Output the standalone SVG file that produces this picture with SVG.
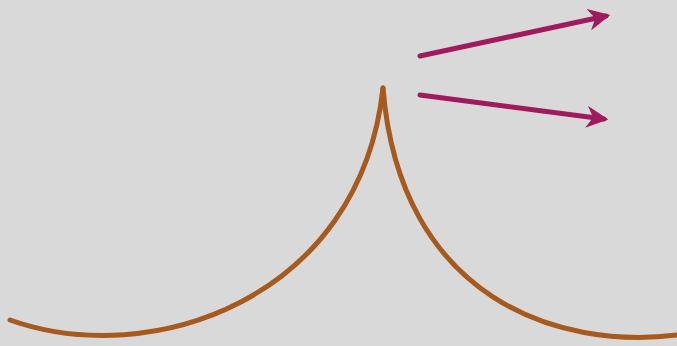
<svg xmlns="http://www.w3.org/2000/svg" width="677" height="346" viewBox="0 0 677 346">
<defs>
<style>
.curve{fill:none;stroke:#A65A1E;stroke-width:5;stroke-linecap:round}
.arrow{fill:none;stroke:#A01A5E;stroke-width:5;stroke-linecap:round}
</style>
<marker id="ah" viewBox="0 0 10 10" refX="8" refY="5" markerWidth="4.4" markerHeight="4.4" orient="auto" markerUnits="strokeWidth">
<path d="M0,0 L10,5 L0,10 L3,5 Z" fill="#A01A5E"/>
</marker>
</defs>
<rect width="677" height="346" fill="#D9D9D9"/>
<g id="cusp">
<path class="curve" d="M10,320 C150,370 360,300 383,88"/>
<path class="curve" d="M383,88 C400,300 560,350 677,335"/>
</g>
<g id="connectors">
<line class="arrow" x1="420" y1="56" x2="606" y2="16" marker-end="url(#ah)"/>
<line class="arrow" x1="420" y1="95" x2="604" y2="119" marker-end="url(#ah)"/>
</g>
</svg>
